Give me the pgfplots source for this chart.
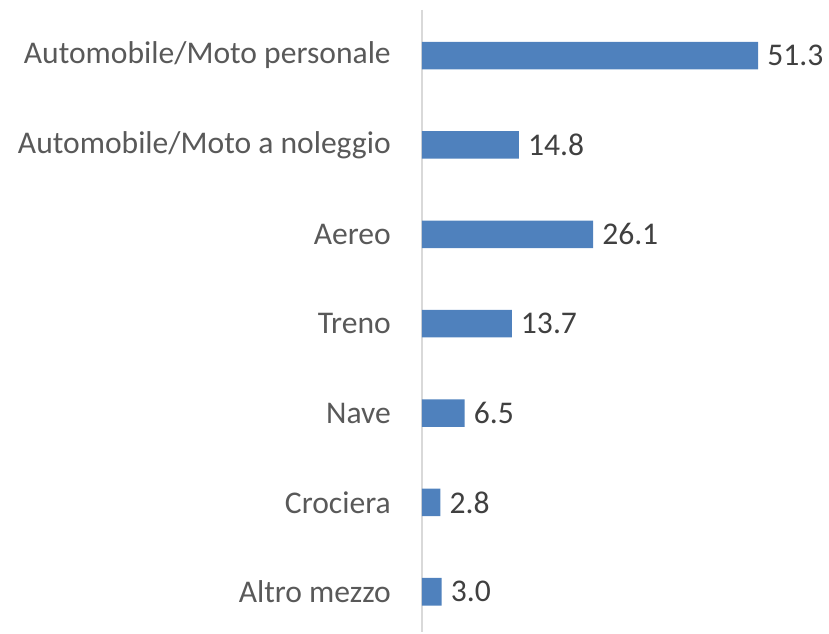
\documentclass[border=0pt]{standalone}
\usepackage{fontspec}
\setmainfont{Carlito}
\usepackage{pgfplots}
\pgfplotsset{compat=1.18}
\definecolor{barblue}{HTML}{4F81BD}
\definecolor{labgray}{HTML}{595959}
\definecolor{valgray}{HTML}{404040}
\definecolor{axgray}{HTML}{D9D9D9}
\begin{document}
\begin{tikzpicture}[font=\fontsize{31.7}{38}\selectfont]
\useasboundingbox (-422bp,-2bp) rectangle (407bp,632bp);
\begin{axis}[
  at={(0,0)}, anchor=south west,
  scale only axis,
  width=407bp, height=622bp,
  xbar, bar width=27.6bp,
  xmin=0, xmax=62.1,
  ymin=-0.51, ymax=6.45,
  y dir=reverse,
  axis x line=none,
  axis y line*=left,
  y axis line style={draw=axgray, line width=1.3bp, -},
  ytick={0,1,2,3,4,5,6},
  yticklabels={Automobile/Moto personale, Automobile/Moto a noleggio, Aereo, Treno, Nave, Crociera, Altro mezzo},
  major tick length=0pt,
  yticklabel style={anchor=east, inner sep=0pt, xshift=-31bp, text=labgray},
  /pgf/number format/assume math mode=true,
  nodes near coords={\pgfmathprintnumber[fixed,fixed zerofill,precision=1]{\pgfplotspointmeta}},
  nodes near coords style={anchor=west, inner sep=0pt, xshift=9bp, text=valgray},
  clip=false,
]
\addplot[fill=barblue, draw=none] coordinates {
  (51.3,0) (14.8,1) (26.1,2) (13.7,3) (6.5,4) (2.8,5) (3.0,6)
};
\end{axis}
\end{tikzpicture}
\end{document}
